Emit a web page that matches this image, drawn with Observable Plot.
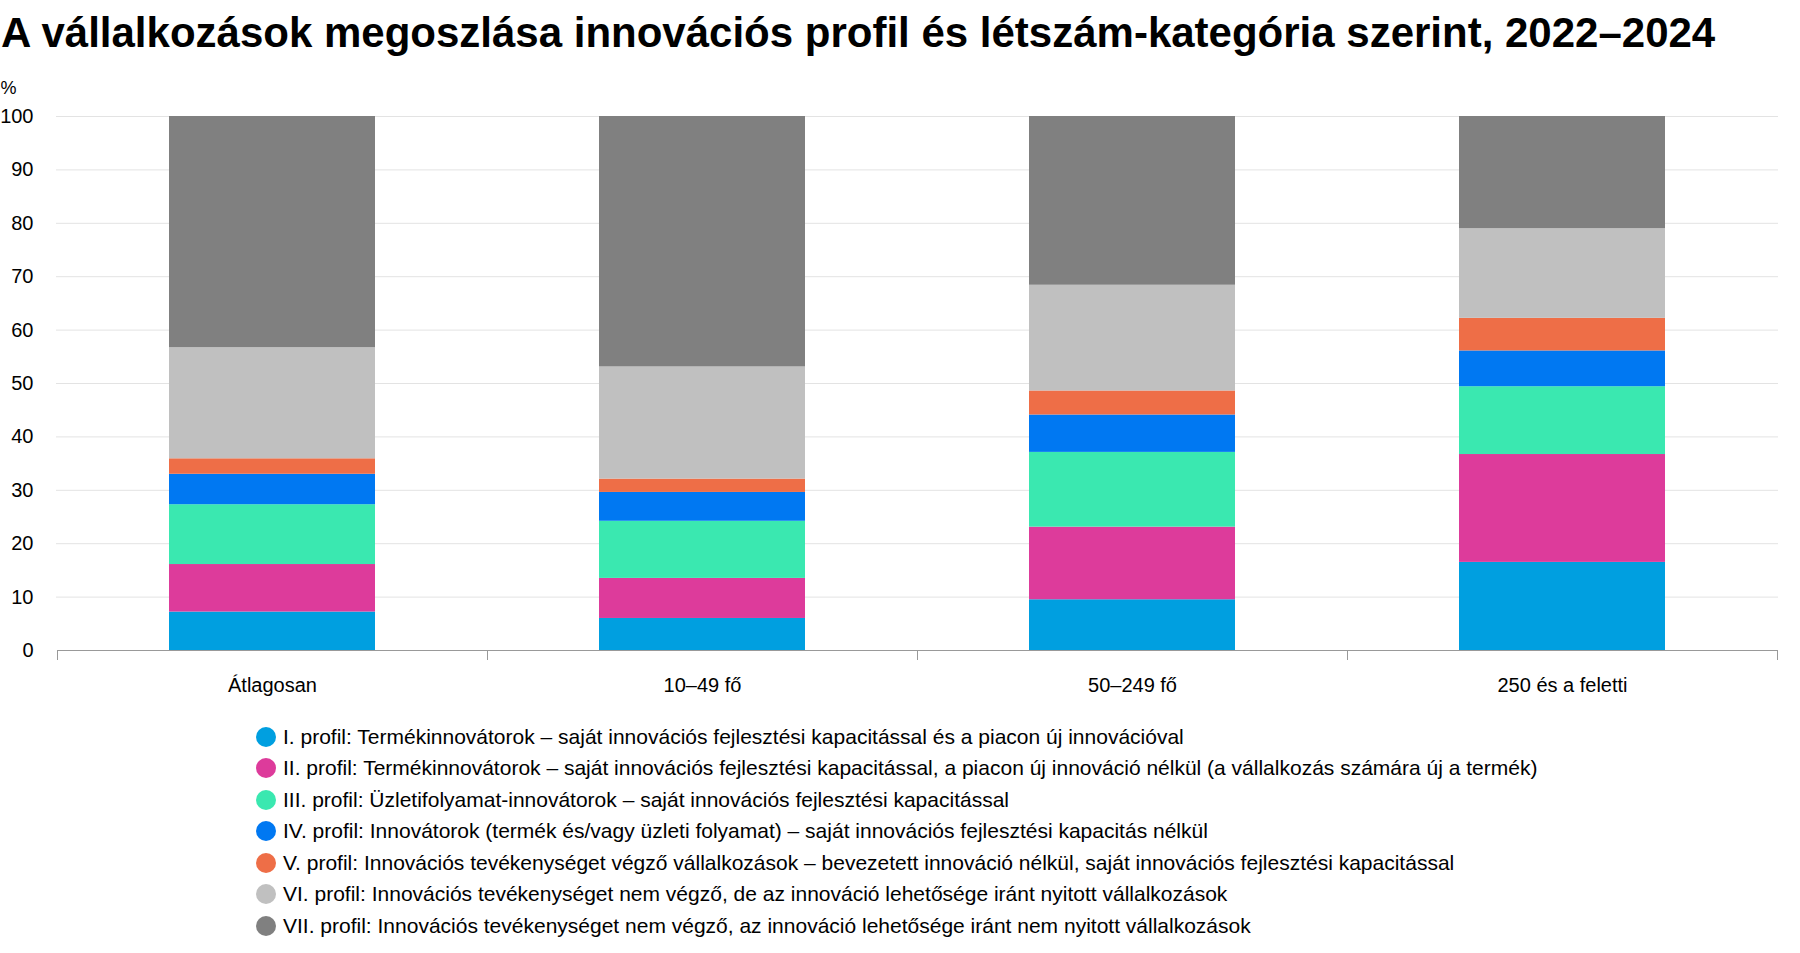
<!DOCTYPE html>
<html lang="hu">
<head>
<meta charset="utf-8">
<script src="https://cdn.jsdelivr.net/npm/d3@7"></script>
<script src="https://cdn.jsdelivr.net/npm/@observablehq/plot@0.6"></script>
<style>
  html, body { margin: 0; padding: 0; background: #fff; }
  body { width: 1800px; height: 953px; overflow: hidden; font-family: "Liberation Sans", Arial, sans-serif; color: #000; }
  #title { box-sizing: border-box; height: 60px; padding: 12px 0 0 1px; font-weight: bold; font-size: 42px; line-height: 1; white-space: nowrap; }
  #chart svg { display: block; }
  #legend { padding: 11px 0 0 256px; }
  .row { display: flex; align-items: center; height: 31.5px; font-size: 21px; white-space: nowrap; }
  .sw { width: 20px; height: 20px; border-radius: 50%; margin-right: 7px; flex: none; }
</style>
</head>
<body>
<div id="title">A vállalkozások megoszlása innovációs profil és létszám-kategória szerint, 2022–2024</div>
<div id="chart"></div>
<div id="legend"></div>
<script>
const categories = ["Átlagosan", "10–49 fő", "50–249 fő", "250 és a feletti"];
const profiles = [
  "I. profil: Termékinnovátorok – saját innovációs fejlesztési kapacitással és a piacon új innovációval",
  "II. profil: Termékinnovátorok – saját innovációs fejlesztési kapacitással, a piacon új innováció nélkül (a vállalkozás számára új a termék)",
  "III. profil: Üzletifolyamat-innovátorok – saját innovációs fejlesztési kapacitással",
  "IV. profil: Innovátorok (termék és/vagy üzleti folyamat) – saját innovációs fejlesztési kapacitás nélkül",
  "V. profil: Innovációs tevékenységet végző vállalkozások – bevezetett innováció nélkül, saját innovációs fejlesztési kapacitással",
  "VI. profil: Innovációs tevékenységet nem végző, de az innováció lehetősége iránt nyitott vállalkozások",
  "VII. profil: Innovációs tevékenységet nem végző, az innováció lehetősége iránt nem nyitott vállalkozások"
];
const colors = ["#009fe0", "#dd3b9b", "#3ae8b0", "#0078f2", "#ee6e47", "#c0c0c0", "#808080"];
// values per profile, one per category (%)
const profil1 = [7.2, 6.0, 9.5, 16.5];
const profil2 = [8.9, 7.5, 13.6, 20.2];
const profil3 = [11.2, 10.7, 14.0, 12.7];
const profil4 = [5.7, 5.4, 7.0, 6.7];
const profil5 = [2.9, 2.5, 4.5, 6.1];
const profil6 = [20.8, 21.0, 19.8, 16.8];
const profil7 = [43.3, 46.9, 31.6, 21.0];
const yTicks = [0, 10, 20, 30, 40, 50, 60, 70, 80, 90, 100];
const yUnit = "%";

const series = [profil1, profil2, profil3, profil4, profil5, profil6, profil7];
const data = [];
categories.forEach((c, ci) => {
  series.forEach((s, si) => data.push({cat: c, profile: profiles[si], value: s[ci]}));
});

const PAD_INNER = 0.52;

function bandBoundaryTicks(index, scales, values, dimensions) {
  const x = scales.x, y = scales.y;
  const p0 = x(categories[0]), p1 = x(categories[1]);
  const step = p1 - p0;
  const bw = step * (1 - PAD_INNER);
  const y0 = y(0);
  const g = d3.create("svg:g").attr("stroke", "#999").attr("stroke-width", 1);
  const xs = categories.map(c => x(c) + bw / 2 - step / 2);
  xs.push(x(categories[categories.length - 1]) + bw / 2 + step / 2);
  for (const xv of xs) {
    const xx = Math.round(xv) + 0.5;
    g.append("line").attr("x1", xx).attr("x2", xx).attr("y1", y0).attr("y2", y0 + 10);
  }
  g.append("line").attr("x1", Math.round(xs[0]) + 0.5).attr("x2", Math.round(xs[xs.length - 1]) + 0.5)
    .attr("y1", Math.round(y0) + 0.5).attr("y2", Math.round(y0) + 0.5);
  return g.node();
}

const chart = Plot.plot({
  width: 1800,
  height: 650,
  marginTop: 56,
  marginBottom: 60,
  marginLeft: 56,
  marginRight: 22,
  style: {fontFamily: "'Liberation Sans', Arial, sans-serif", fontSize: "20px", color: "#000", background: "#fff"},
  x: {domain: categories, paddingInner: PAD_INNER, paddingOuter: PAD_INNER / 2, label: null},
  y: {domain: [0, 100], label: null},
  color: {domain: profiles, range: colors},
  marks: [
    Plot.ruleY(yTicks.filter(d => d > 0), {stroke: "#e3e3e3", strokeWidth: 1}),
    Plot.axisY({ticks: yTicks, tickSize: 0, tickPadding: 23, label: null, fontSize: 20}),
    Plot.axisX({tickSize: 0, tickPadding: 27, label: null, fontSize: 20}),
    Plot.barY(data, {x: "cat", y: "value", fill: "profile", order: profiles}),
    Plot.text([yUnit], {frameAnchor: "top-left", text: d => d, dx: -56, dy: -23, textAnchor: "start", lineAnchor: "bottom", fontSize: 18}),
    bandBoundaryTicks
  ]
});
document.getElementById("chart").appendChild(chart);

const legend = d3.select("#legend");
profiles.forEach((p, i) => {
  const row = legend.append("div").attr("class", "row");
  row.append("div").attr("class", "sw").style("background", colors[i]);
  row.append("span").text(p);
});
</script>
</body>
</html>
